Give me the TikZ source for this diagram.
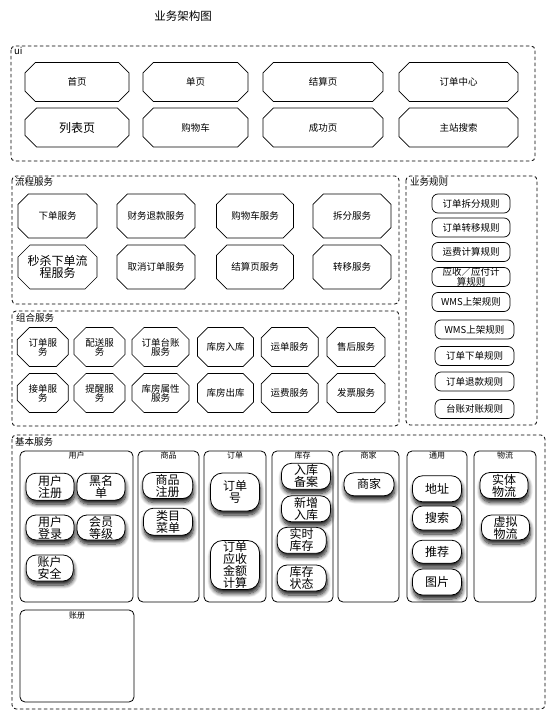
\documentclass[tikz,border=0pt]{standalone}
\usepackage{fontspec}
\setmainfont{Noto Sans CJK SC}
\usepackage{tikz}
\usetikzlibrary{shapes.misc,positioning,shadows.blur}

\begin{document}
\begin{tikzpicture}[
  x=1pt, y=-1pt,
  group/.style={draw, line width=0.8pt, dash pattern=on 3.5pt off 2.5pt, rounded corners=4pt},
  glabel/.style={anchor=north west, inner sep=0pt, font=\fontsize{9.5}{10}\selectfont},
  page/.style={draw, line width=0.7pt, chamfered rectangle, chamfered rectangle xsep=6pt,
               chamfered rectangle ysep=6pt, minimum height=39pt, inner sep=0pt, align=center,
               font=\fontsize{9.5}{9}\selectfont},
  big/.style={font=\fontsize{12}{11}\selectfont},
  flow/.style={page, minimum height=44pt},
  rule/.style={draw, line width=0.7pt, rounded corners=6pt, minimum height=19pt, inner sep=0pt,
               align=center, font=\fontsize{9.5}{9}\selectfont},
  col/.style={draw, line width=0.8pt, rounded corners=5pt},
  ctitle/.style={anchor=north, inner sep=0pt, font=\fontsize{8}{9}\selectfont},
  pill/.style={draw, line width=0.8pt, rounded corners=10pt, fill=white, minimum width=49pt,
               minimum height=26pt, inner sep=0pt, align=center, font=\fontsize{12}{12}\selectfont,
               blur shadow={shadow xshift=0.8pt, shadow yshift=-4pt, shadow blur radius=4pt,
               shadow blur steps=8, shadow opacity=90}}
]
\useasboundingbox (0,0) rectangle (555,722);
\node[font=\fontsize{11.5}{12}\selectfont] (title) at (183,16.5) {业务架构图};

% ui
\draw[group] (11,46) rectangle (535,161);
\node[glabel] (lui) at (14,47) {ui};
\node[page, minimum width=104pt] (pg1) at (77,82) {首页};
\node[page, minimum width=105pt] (pg2) at (195.5,82) {单页};
\node[page, minimum width=120pt] (pg3) at (323,82) {结算页};
\node[page, minimum width=119pt] (pg4) at (458.5,82) {订单中心};
\node[page, big, minimum width=104pt] (pg5) at (77,127.5) {列表页};
\node[page, minimum width=105pt] (pg6) at (195.5,127.5) {购物车};
\node[page, minimum width=120pt] (pg7) at (323,127.5) {成功页};
\node[page, minimum width=119pt] (pg8) at (458.5,127.5) {主站搜索};

% 流程服务
\draw[group] (12,176) rectangle (399,304);
\node[glabel] (lflow) at (15,177) {流程服务};
\node[flow, minimum width=79pt] (fl1) at (57.5,216) {下单服务};
\node[flow, minimum width=78pt] (fl2) at (156,216) {财务退款服务};
\node[flow, minimum width=77pt] (fl3) at (255,216) {购物车服务};
\node[flow, minimum width=78pt] (fl4) at (352,216) {拆分服务};
\node[flow, big, minimum width=79pt] (fl5) at (57.5,267) {秒杀下单流\\程服务};
\node[flow, minimum width=78pt] (fl6) at (156,267) {取消订单服务};
\node[flow, minimum width=77pt] (fl7) at (255,267) {结算页服务};
\node[flow, minimum width=78pt] (fl8) at (352,267) {转移服务};

% 业务规则
\draw[group] (406,176) rectangle (537,425);
\node[glabel] (lrule) at (410,177) {业务规则};
\node[rule, minimum width=78pt] (rl1) at (471,203.5) {订单拆分规则};
\node[rule, minimum width=78pt] (rl2) at (471,227.5) {订单转移规则};
\node[rule, minimum width=78pt] (rl3) at (471,252) {运费计算规则};
\node[rule, minimum width=78pt, font=\fontsize{9.5}{8.5}\selectfont] (rl4) at (471,277) {应收／应付计\\算规则};
\node[rule, minimum width=78pt] (rl5) at (471,302) {WMS上架规则};
\node[rule, minimum width=79pt] (rl6) at (474.5,329.5) {WMS上架规则};
\node[rule, minimum width=79pt] (rl7) at (474.5,356) {订单下单规则};
\node[rule, minimum width=79pt] (rl8) at (474.5,381.5) {订单退款规则};
\node[rule, minimum width=79pt] (rl9) at (474.5,409) {台账对账规则};

% 组合服务
\draw[group] (12,311) rectangle (399,426);
\node[glabel] (lcomb) at (16,313) {组合服务};
\node[page, minimum width=51pt] (cb1) at (42.8,347) {订单服\\务};
\node[page, minimum width=51pt] (cb2) at (99.5,347) {配送服\\务};
\node[page, minimum width=57pt] (cb3) at (160.5,347) {订单台账\\服务};
\node[page, minimum width=56pt] (cb4) at (225.5,347) {库房入库};
\node[page, minimum width=57pt] (cb5) at (289.7,347) {运单服务};
\node[page, minimum width=58pt] (cb6) at (356,347) {售后服务};
\node[page, minimum width=51pt] (cb7) at (42.8,393) {接单服\\务};
\node[page, minimum width=51pt] (cb8) at (99.5,393) {提醒服\\务};
\node[page, minimum width=57pt] (cb9) at (160.5,393) {库房属性\\服务};
\node[page, minimum width=56pt] (cb10) at (225.5,393) {库房出库};
\node[page, minimum width=57pt] (cb11) at (289.7,393) {运费服务};
\node[page, minimum width=58pt] (cb12) at (356,393) {发票服务};

% 基本服务
\draw[group] (12,435) rectangle (545,709);
\node[glabel] (lbase) at (15,437) {基本服务};
\draw[col] (20,451) rectangle (133,602);
\node[ctitle] (tuser) at (76.5,452) {用户};
\draw[col] (138,451) rectangle (199,602);
\node[ctitle] (tgoods) at (168.5,452) {商品};
\draw[col] (204,451) rectangle (266,602);
\node[ctitle] (torder) at (235,452) {订单};
\draw[col] (272,451) rectangle (333,602);
\node[ctitle] (tstock) at (302.5,452) {库存};
\draw[col] (338,451) rectangle (399,602);
\node[ctitle] (tshop) at (368.5,452) {商家};
\draw[col] (407,451) rectangle (467,602);
\node[ctitle] (tcommon) at (437,452) {通用};
\draw[col] (474,451) rectangle (536,602);
\node[ctitle] (tlogi) at (505,452) {物流};
\draw[col] (20,610) rectangle (134,702);
\node[ctitle] (tbook) at (77,612) {账册};

\node[pill, minimum width=48pt, minimum height=27pt] (p1) at (50,486.7) {用户\\注册};
\node[pill, minimum width=48pt, minimum height=27pt] (p2) at (101,486.7) {黑名\\单};
\node[pill, minimum width=48pt, minimum height=25pt] (p3) at (50,527.5) {用户\\登录};
\node[pill, minimum width=48pt, minimum height=25pt] (p4) at (101,527.5) {会员\\等级};
\node[pill, minimum width=47pt] (p5) at (49.7,568) {账户\\安全};
\node[pill, minimum width=50pt] (p6) at (167.7,485.5) {商品\\注册};
\node[pill, minimum height=27pt] (p7) at (168,521.7) {类目\\菜单};
\node[pill, minimum height=38pt, rounded corners=12pt] (p8) at (235,492) {订单\\号};
\node[pill, minimum height=49pt, rounded corners=12pt] (p9) at (235,565) {订单\\应收\\金额\\计算};
\node[pill] (p10) at (306,476.3) {入库\\备案};
\node[pill] (p11) at (306,508.8) {新增\\入库};
\node[pill] (p12) at (301.7,540.3) {实时\\库存};
\node[pill] (p13) at (301.7,578) {库存\\状态};
\node[pill, minimum width=50pt, minimum height=23pt] (p14) at (369,484.3) {商家};
\node[pill] (p15) at (437,488.8) {地址};
\node[pill, minimum height=24pt] (p16) at (437,518) {搜索};
\node[pill, minimum height=23pt] (p17) at (437,551.7) {推荐};
\node[pill] (p18) at (437,582) {图片};
\node[pill, minimum width=48pt] (p19) at (504,485.5) {实体\\物流};
\node[pill, minimum width=48pt, minimum height=25pt] (p20) at (505.5,527.5) {虚拟\\物流};
\end{tikzpicture}
\end{document}
